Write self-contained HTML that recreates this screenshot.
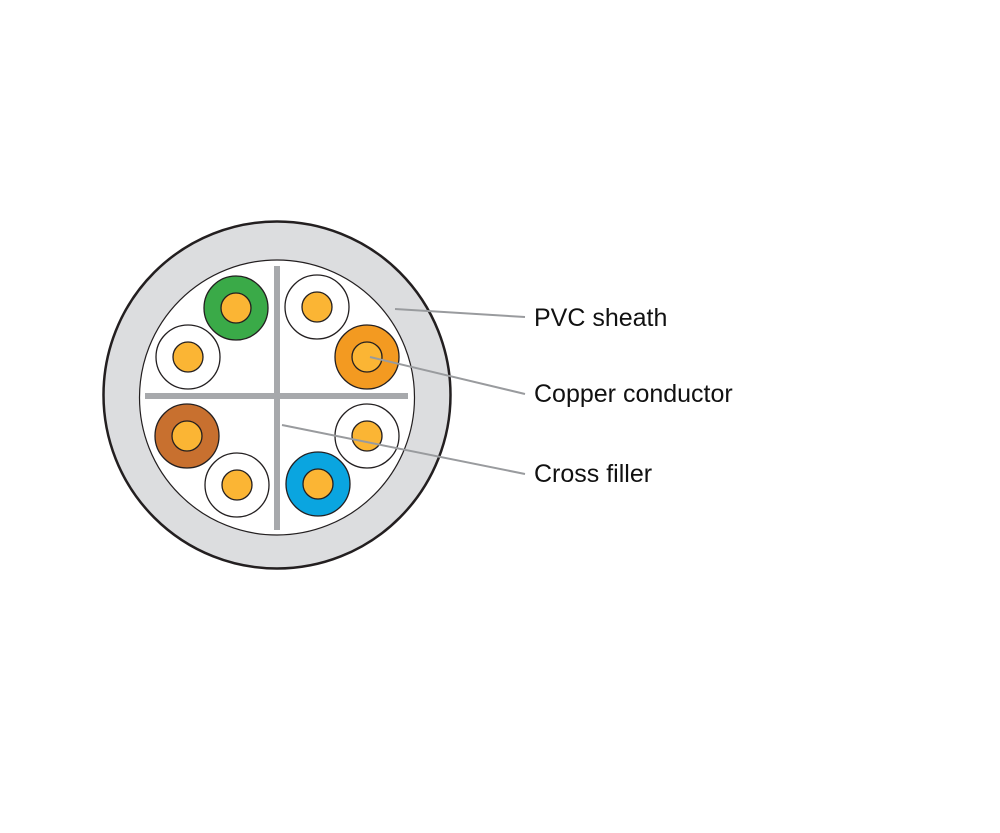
<!DOCTYPE html>
<html><head><meta charset="utf-8"><style>html,body{margin:0;padding:0;background:#fff}svg{display:block}</style></head>
<body>
<svg width="1000" height="833" viewBox="0 0 1000 833" xmlns="http://www.w3.org/2000/svg">
<circle cx="277" cy="395" r="173.5" fill="#dcdddf" stroke="#231f20" stroke-width="2.5"/>
<circle cx="277" cy="397.5" r="137.5" fill="#fff" stroke="#231f20" stroke-width="1.2"/>
<rect x="274" y="266" width="6" height="264" fill="#a7a9ac"/>
<rect x="145" y="393" width="263" height="6" fill="#a7a9ac"/>
<g stroke="#231f20" stroke-width="1.3">
<circle cx="236" cy="308" r="32" fill="#3aaa48"/><circle cx="236" cy="308" r="15" fill="#fbb534"/>
<circle cx="188" cy="357" r="32" fill="#fff"/><circle cx="188" cy="357" r="15" fill="#fbb534"/>
<circle cx="317" cy="307" r="32" fill="#fff"/><circle cx="317" cy="307" r="15" fill="#fbb534"/>
<circle cx="367" cy="357" r="32" fill="#f39a21"/><circle cx="367" cy="357" r="15" fill="#fbb534"/>
<circle cx="187" cy="436" r="32" fill="#c8702f"/><circle cx="187" cy="436" r="15" fill="#fbb534"/>
<circle cx="237" cy="485" r="32" fill="#fff"/><circle cx="237" cy="485" r="15" fill="#fbb534"/>
<circle cx="318" cy="484" r="32" fill="#0aa5e0"/><circle cx="318" cy="484" r="15" fill="#fbb534"/>
<circle cx="367" cy="436" r="32" fill="#fff"/><circle cx="367" cy="436" r="15" fill="#fbb534"/>
</g>
<g stroke="#999b9e" stroke-width="2">
<line x1="395" y1="309" x2="525" y2="317"/>
<line x1="370" y1="357" x2="525" y2="394"/>
<line x1="282" y1="425" x2="525" y2="474"/>
</g>
<g font-family="Liberation Sans, sans-serif" font-size="25" fill="#111">
<text x="534" y="326">PVC sheath</text>
<text x="534" y="402">Copper conductor</text>
<text x="534" y="482">Cross filler</text>
</g>
</svg>
</body></html>
